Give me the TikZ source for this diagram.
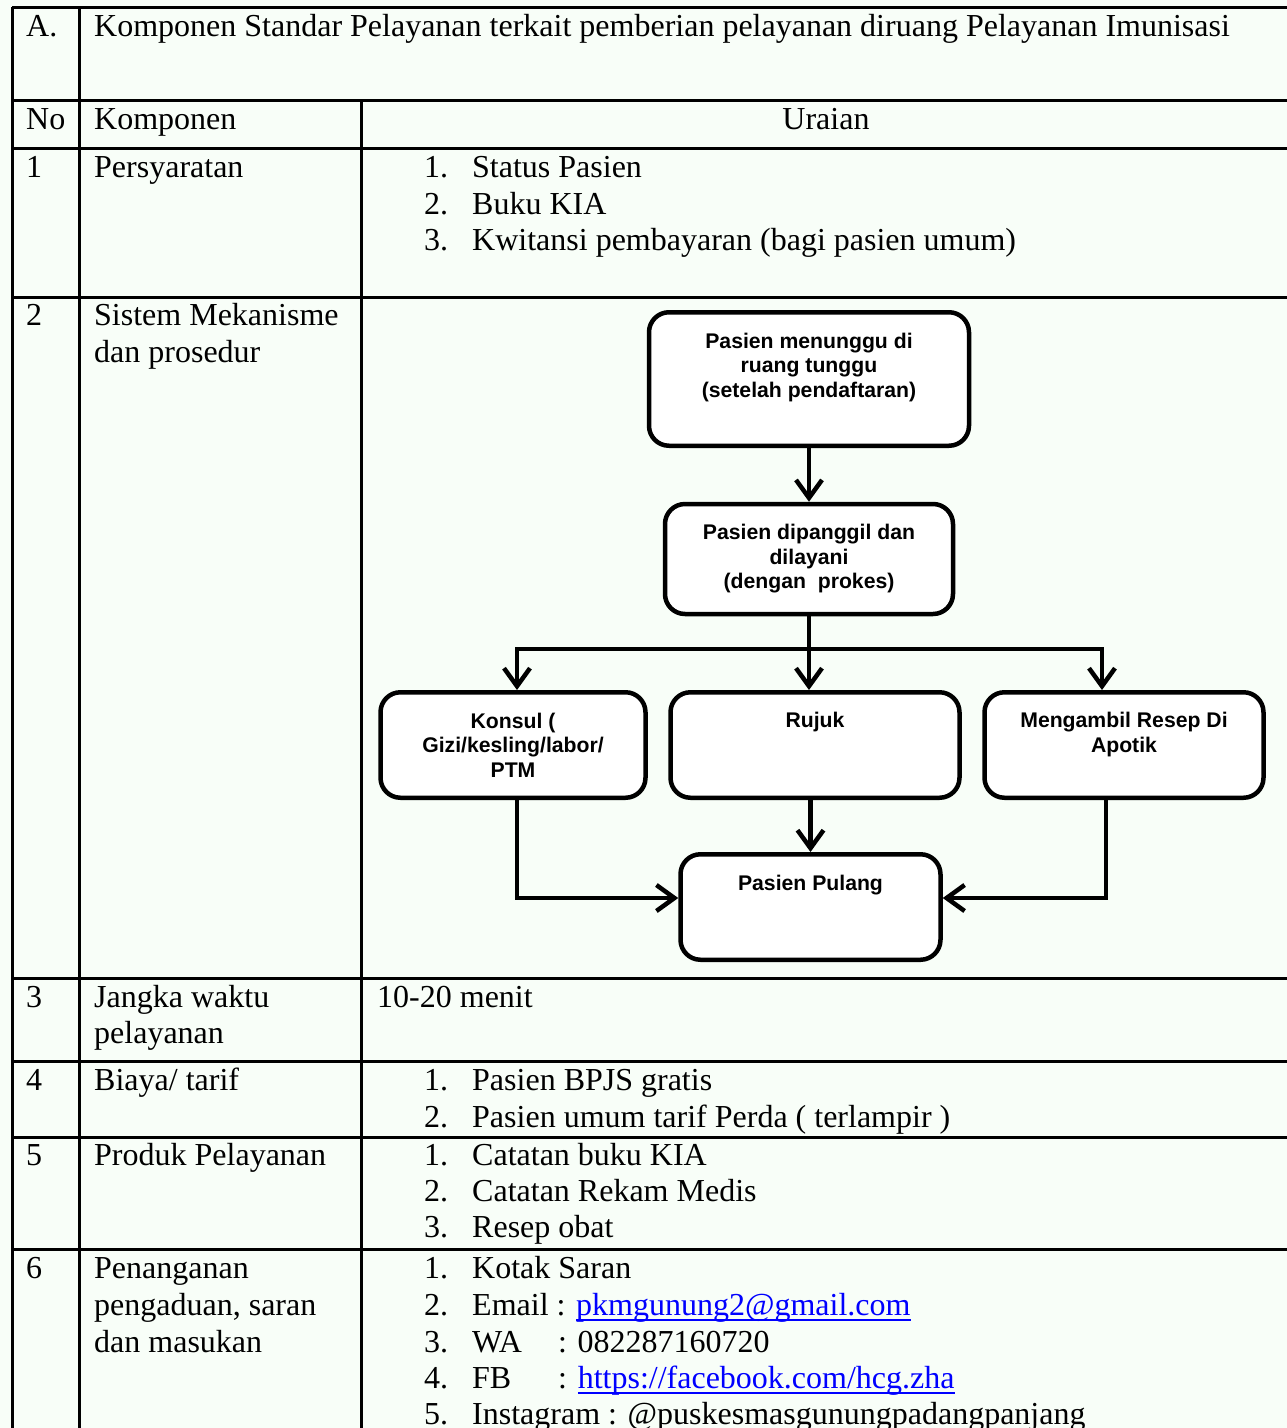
\documentclass[tikz,border=0pt]{standalone}
\usepackage{fontspec}
\setmainfont{Liberation Serif}
\newfontfamily\flowfont{Liberation Sans}
\usepackage{xcolor}
\usepackage{tikz}
\usetikzlibrary{arrows.meta}
\definecolor{pagebg}{RGB}{248,254,248}
\definecolor{linkblue}{RGB}{0,0,255}
\newsavebox{\lnkbox}
\newcommand{\lnk}[1]{\sbox{\lnkbox}{\color{linkblue}#1}\textcolor{linkblue}{\rlap{\usebox{\lnkbox}}\rule[-5.5pt]{\wd\lnkbox}{1.6pt}}}
\tikzstyle{txt} = [anchor=base west, inner sep=0pt, font=\fontsize{32}{36.5}\selectfont]
\tikzstyle{flowbox} = [rectangle, rounded corners=20pt, draw=black, line width=4.5pt, fill=white, align=center, inner ysep=14pt, font=\flowfont\bfseries\fontsize{21.2}{24.5}\selectfont]
\tikzstyle{rule} = [line width=3pt]
\tikzstyle{flowline} = [line width=4.5pt]
\tikzstyle{arrow} = [line width=4.5pt, -{Straight Barb[length=18pt, width=26pt]}]

\begin{document}
\begin{tikzpicture}[x=1pt, y=-1pt, node distance=180pt]

\useasboundingbox (0,0) rectangle (1287,1428);
\fill [pagebg] (0,0) rectangle (1287,1428);

% table grid
\draw [rule] (12,7) -- (1300,7);
\draw [rule] (12,100) -- (1300,100);
\draw [rule] (12,148) -- (1300,148);
\draw [rule] (12,297) -- (1300,297);
\draw [rule] (12,978) -- (1300,978);
\draw [rule] (12,1061) -- (1300,1061);
\draw [rule] (12,1137) -- (1300,1137);
\draw [rule] (12,1249) -- (1300,1249);
\draw [rule] (12,7) -- (12,1440);
\draw [rule] (79,7) -- (79,1440);
\draw [rule] (361,100) -- (361,1440);

% heading
\node (A) [txt] at (26,36) {A.};
\node (title) [txt] at (94,36) {Komponen Standar Pelayanan terkait pemberian pelayanan diruang Pelayanan Imunisasi};
\node (no) [txt] at (26,129) {No};
\node (komp) [txt] at (94,129) {Komponen};
\node (uraian) [txt, anchor=base] at (826,129) {Uraian};

% row 1
\node (n1) [txt] at (26,177) {1};
\node (syarat) [txt] at (94,177) {Persyaratan};
\node (s1) [txt] at (424,177) {\makebox[48pt][l]{1.}Status Pasien};
\node (s2) [txt] at (424,214) {\makebox[48pt][l]{2.}Buku KIA};
\node (s3) [txt] at (424,250) {\makebox[48pt][l]{3.}Kwitansi pembayaran (bagi pasien umum)};

% row 2
\node (n2) [txt] at (26,325) {2};
\node (sis1) [txt] at (94,325) {Sistem Mekanisme};
\node (sis2) [txt] at (94,362) {dan prosedur};

\node (wait) [flowbox, minimum width=320pt, text height=70.75pt, text depth=34.75pt] at (809,379) {Pasien menunggu di\\ruang tunggu\\(setelah pendaftaran)};
\node (call) [flowbox, minimum width=288pt, text height=70.75pt, text depth=11.25pt, below of=wait] {Pasien dipanggil dan\\dilayani\\(dengan\ \ prokes)};
\node (rujuk) [flowbox, minimum width=289pt, text height=20.75pt, text depth=56.75pt, below of=call, xshift=6pt, yshift=-6pt] {Rujuk};
\node (konsul) [flowbox, minimum width=265pt, text height=70.75pt, text depth=6.75pt, left of=rujuk, xshift=-122pt] {Konsul (\\Gizi/kesling/labor/\\PTM};
\node (apotik) [flowbox, minimum width=279pt, text height=45.75pt, text depth=31.75pt, right of=rujuk, xshift=129pt] {Mengambil Resep Di\\Apotik};
\node (pulang) [flowbox, minimum width=260pt, text height=21.75pt, text depth=55.75pt, below of=rujuk, xshift=-4.5pt, yshift=18pt] {Pasien Pulang};

\coordinate (fork) at (809,649);

\draw [arrow] (wait) -- (call);
\draw [flowline] (call) -- (fork);
\draw [arrow] (fork) -| ([xshift=4pt]konsul.north);
\draw [arrow] (fork) -- (fork |- rujuk.north);
\draw [arrow] (fork) -| ([xshift=-22pt]apotik.north);
\draw [arrow] (rujuk.south -| pulang) -- (pulang);
\draw [arrow] ([xshift=4pt]konsul.south) |- ([yshift=9pt]pulang.west);
\draw [arrow] ([xshift=-18pt]apotik.south) |- ([yshift=9pt]pulang.east);

% row 3
\node (n3) [txt] at (26,1007) {3};
\node (waktu1) [txt] at (94,1007) {Jangka waktu};
\node (waktu2) [txt] at (94,1043) {pelayanan};
\node (menit) [txt] at (377,1007) {10-20 menit};

% row 4
\node (n4) [txt] at (26,1090) {4};
\node (biaya) [txt] at (94,1090) {Biaya/ tarif};
\node (b1) [txt] at (424,1090) {\makebox[48pt][l]{1.}Pasien BPJS gratis};
\node (b2) [txt] at (424,1127) {\makebox[48pt][l]{2.}Pasien umum tarif Perda ( terlampir )};

% row 5
\node (n5) [txt] at (26,1165) {5};
\node (produk) [txt] at (94,1165) {Produk Pelayanan};
\node (p1) [txt] at (424,1165) {\makebox[48pt][l]{1.}Catatan buku KIA};
\node (p2) [txt] at (424,1201) {\makebox[48pt][l]{2.}Catatan Rekam Medis};
\node (p3) [txt] at (424,1237) {\makebox[48pt][l]{3.}Resep obat};

% row 6
\node (n6) [txt] at (26,1278) {6};
\node (aduan1) [txt] at (94,1278) {Penanganan};
\node (aduan2) [txt] at (94,1315) {pengaduan, saran};
\node (aduan3) [txt] at (94,1352) {dan masukan};
\node (k1) [txt] at (424,1278) {\makebox[48pt][l]{1.}Kotak Saran};
\node (k2) [txt] at (424,1315) {\makebox[48pt][l]{2.}Email : \lnk{pkmgunung2@gmail.com}};
\node (k3) [txt] at (424,1352) {\makebox[48pt][l]{3.}\makebox[86pt][l]{WA}: 082287160720};
\node (k4) [txt] at (424,1388) {\makebox[48pt][l]{4.}\makebox[86pt][l]{FB}: \lnk{https://facebook.com/hcg.zha}};
\node (k5) [txt] at (424,1424) {\makebox[48pt][l]{5.}Instagram : @puskesmasgunungpadangpanjang};

\end{tikzpicture}
\end{document}
